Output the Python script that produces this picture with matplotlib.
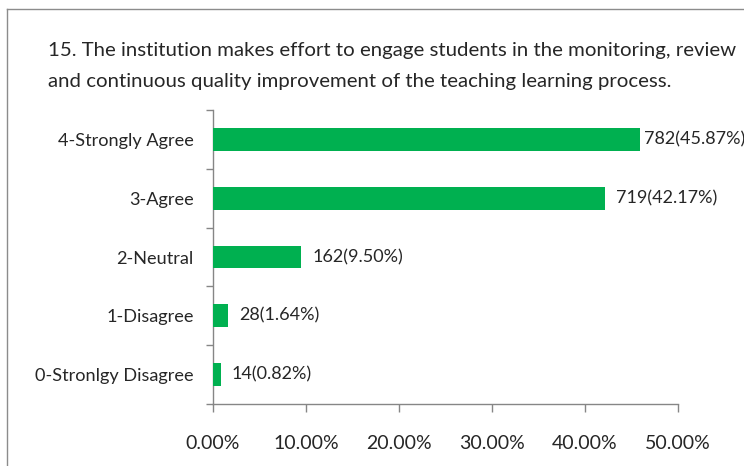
import matplotlib
matplotlib.use("Agg")
import matplotlib.pyplot as plt
from matplotlib.lines import Line2D
from matplotlib.ticker import FixedLocator, PercentFormatter

# ── data ─────────────────────────────────────────────────────────────
categories = ["0-Stronlgy Disagree", "1-Disagree", "2-Neutral", "3-Agree", "4-Strongly Agree"]
counts = [14, 28, 162, 719, 782]
percents = [0.82, 1.64, 9.50, 42.17, 45.87]
title_lines = [
    "15. The institution makes effort to engage students in the monitoring, review",
    "and continuous quality improvement of the teaching learning process.",
]

# ── style ────────────────────────────────────────────────────────────
GREEN = "#00B050"
AXIS = "#868686"
TXT = "#262626"
FONT = ["Lato", "DejaVu Sans"]
plt.rcParams["font.family"] = FONT

W, H = 744, 466
fig = plt.figure(figsize=(W / 100, H / 100), dpi=100)
fig.patch.set_facecolor("white")

# frame fragments (top + left border of the original chart area)
fig.add_artist(Line2D([7 / W, 1], [1 - 9 / H, 1 - 9 / H], color="#8C8C8C", lw=1.0))
fig.add_artist(Line2D([7 / W, 7 / W], [0, 1 - 9 / H], color="#8C8C8C", lw=1.0))

# title
fig.text(48 / W, 1 - 56 / H, title_lines[0], ha="left", va="baseline",
         fontsize=14.7, color=TXT)
fig.text(48 / W, 1 - 87 / H, title_lines[1], ha="left", va="baseline",
         fontsize=14.7, color=TXT)

# ── axes ─────────────────────────────────────────────────────────────
ax = fig.add_axes([213 / W, 1 - 404 / H, (678 - 213) / W, (404 - 110) / H])
ypos = list(range(len(categories)))
ax.barh(ypos, percents, height=0.39, color=GREEN, zorder=3)

ax.set_xlim(0, 50)
ax.set_ylim(-0.5, len(categories) - 0.5)
ax.xaxis.set_major_locator(FixedLocator([0, 10, 20, 30, 40, 50]))
ax.xaxis.set_major_formatter(PercentFormatter(decimals=2))

ax.set_yticks(ypos)
ax.set_yticklabels(categories)
ax.set_yticks([y - 0.5 for y in range(len(categories) + 1)], minor=True)

for s in ["top", "right"]:
    ax.spines[s].set_visible(False)
for s in ["left", "bottom"]:
    ax.spines[s].set_color(AXIS)
    ax.spines[s].set_linewidth(1.0)

ax.tick_params(axis="x", which="major", length=6, width=1.0, color=AXIS,
               labelsize=14, labelcolor=TXT, pad=16)
ax.tick_params(axis="y", which="major", length=0, labelsize=13.1,
               labelcolor=TXT, pad=14)
ax.tick_params(axis="y", which="minor", length=5, width=1.0, color=AXIS)

# data labels (the top one sits tight to its bar, as in the original)
offsets = [8, 8, 8, 8, 3]
for y, c, p, off in zip(ypos, counts, percents, offsets):
    ax.annotate(f"{c}({p:.2f}%)", xy=(p, y), xytext=(off, 0),
                textcoords="offset points", ha="left", va="center",
                fontsize=13, color=TXT, annotation_clip=False)

fig.savefig("out.png", dpi=100, facecolor="white")
